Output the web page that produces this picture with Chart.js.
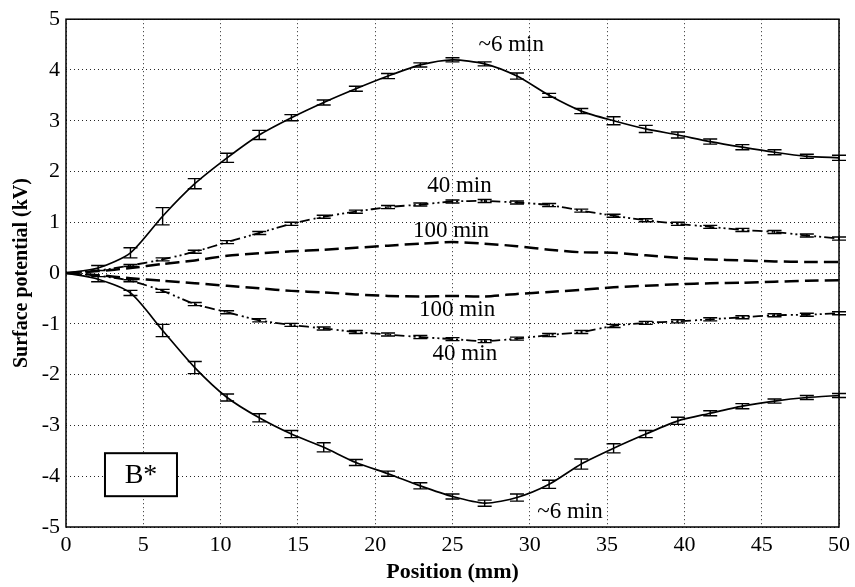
<!DOCTYPE html>
<html>
<head>
<meta charset="utf-8">
<script src="https://cdn.jsdelivr.net/npm/chart.js@4.4.1/dist/chart.umd.min.js"></script>
<style>
  html, body { margin: 0; padding: 0; background: #ffffff; }
  #wrap { width: 855px; height: 587px; }
</style>
</head>
<body>
<div id="wrap"><canvas id="grafico" width="855" height="587"></canvas></div>
<script>
// posicoes (mm)
var posicoes = [0, 2.08, 4.17, 6.25, 8.33, 10.42, 12.5, 14.58, 16.67, 18.75, 20.83, 22.92, 25,
    27.08, 29.17, 31.25, 33.33, 35.42, 37.5, 39.58, 41.67, 43.75, 45.83, 47.92, 50];

// potencial (kV)
var pos6min = [0, 0.1, 0.4, 1.12, 1.76, 2.27, 2.72, 3.06, 3.36, 3.63, 3.88, 4.1, 4.2,
    4.12, 3.88, 3.5, 3.19, 3.0, 2.84, 2.72, 2.59, 2.48, 2.38, 2.3, 2.27];
var pos40min = [0, 0.05, 0.15, 0.27, 0.42, 0.61, 0.79, 0.97, 1.11, 1.21, 1.3, 1.35, 1.41,
    1.42, 1.39, 1.34, 1.23, 1.13, 1.04, 0.97, 0.91, 0.85, 0.81, 0.74, 0.68];
var pos100min = [0, 0.04, 0.1, 0.18, 0.25, 0.34, 0.39, 0.43, 0.46, 0.5, 0.54, 0.58, 0.61,
    0.58, 0.53, 0.46, 0.41, 0.4, 0.35, 0.3, 0.27, 0.25, 0.23, 0.22, 0.22];
var neg100min = [0, -0.04, -0.1, -0.15, -0.2, -0.25, -0.3, -0.35, -0.38, -0.42, -0.45, -0.46, -0.45,
    -0.46, -0.41, -0.37, -0.33, -0.28, -0.25, -0.22, -0.2, -0.19, -0.17, -0.15, -0.14];
var neg40min = [0, -0.05, -0.15, -0.35, -0.61, -0.77, -0.93, -1.02, -1.09, -1.16, -1.21, -1.26, -1.3,
    -1.34, -1.29, -1.22, -1.16, -1.04, -0.98, -0.95, -0.91, -0.87, -0.83, -0.82, -0.79];
var neg6min = [0, -0.12, -0.39, -1.13, -1.86, -2.45, -2.85, -3.17, -3.43, -3.73, -3.95, -4.19, -4.4,
    -4.53, -4.42, -4.16, -3.76, -3.45, -3.17, -2.91, -2.76, -2.62, -2.52, -2.45, -2.41];

// barras de erro (kV)
var erro6minPos = [0, 0.05, 0.1, 0.17, 0.1, 0.09, 0.09, 0.06, 0.05, 0.05, 0.05, 0.04, 0.04,
    0.04, 0.06, 0.04, 0.05, 0.08, 0.07, 0.06, 0.05, 0.05, 0.05, 0.04, 0.05];
var erro6minNeg = [0, 0.05, 0.05, 0.12, 0.12, 0.07, 0.08, 0.07, 0.09, 0.06, 0.05, 0.06, 0.05,
    0.06, 0.07, 0.08, 0.1, 0.09, 0.07, 0.07, 0.05, 0.05, 0.04, 0.04, 0.04];
var erro40min = [0, 0, 0.02, 0.03, 0.03, 0.03, 0.03, 0.03, 0.03, 0.03, 0.03, 0.03, 0.03,
    0.03, 0.03, 0.03, 0.03, 0.03, 0.03, 0.03, 0.03, 0.03, 0.03, 0.03, 0.03];

var ticksX = [0, 5, 10, 15, 20, 25, 30, 35, 40, 45, 50];
var ticksY = [-5, -4, -3, -2, -1, 0, 1, 2, 3, 4, 5];

var rotulos = [
    { texto: "~6 min", x: 28.8, y: 4.49 },
    { texto: "40 min", x: 25.45, y: 1.71 },
    { texto: "100 min", x: 24.9, y: 0.83 },
    { texto: "100 min", x: 25.3, y: -0.73 },
    { texto: "40 min", x: 25.8, y: -1.59 },
    { texto: "~6 min", x: 32.6, y: -4.71 }
];

var fonte = "'Liberation Serif', 'Times New Roman', serif";

function montarSerie(valores) {
    var pontos = [];
    for (var i = 0; i < posicoes.length; i++) {
        pontos.push({ x: posicoes[i], y: valores[i] });
    }
    return pontos;
}

function serie(nome, valores, erros, tracejado, largura) {
    return {
        label: nome,
        data: montarSerie(valores),
        erros: erros,
        borderColor: "#000000",
        borderWidth: largura,
        borderDash: tracejado,
        pointRadius: 0,
        tension: 0.25,
        fill: false
    };
}

// barras de erro, desenhadas pelas escalas do grafico
var pluginErros = {
    id: "barrasErro",
    afterDatasetsDraw: function (chart) {
        var ctx = chart.ctx;
        var sx = chart.scales.x, sy = chart.scales.y;
        ctx.save();
        ctx.strokeStyle = "#000000";
        ctx.lineWidth = 1.4;
        ctx.setLineDash([]);
        chart.data.datasets.forEach(function (ds) {
            if (!ds.erros) return;
            ds.data.forEach(function (p, i) {
                var e = ds.erros[i];
                if (!e) return;
                var px = sx.getPixelForValue(p.x);
                var y1 = sy.getPixelForValue(p.y + e);
                var y2 = sy.getPixelForValue(p.y - e);
                ctx.beginPath();
                ctx.moveTo(px, y1); ctx.lineTo(px, y2);
                ctx.moveTo(px - 7, y1); ctx.lineTo(px + 7, y1);
                ctx.moveTo(px - 7, y2); ctx.lineTo(px + 7, y2);
                ctx.stroke();
            });
        });
        ctx.restore();
    }
};

var pluginTextos = {
    id: "textos",
    afterDraw: function (chart) {
        var ctx = chart.ctx;
        var a = chart.chartArea;
        var sx = chart.scales.x, sy = chart.scales.y;
        ctx.save();
        // moldura
        ctx.setLineDash([]);
        ctx.strokeStyle = "#000000";
        ctx.lineWidth = 1.5;
        ctx.strokeRect(a.left, a.top, a.right - a.left, a.bottom - a.top);

        ctx.fillStyle = "#000000";
        ctx.font = "23px " + fonte;
        ctx.textAlign = "center";
        ctx.textBaseline = "middle";
        rotulos.forEach(function (r) {
            ctx.fillText(r.texto, sx.getPixelForValue(r.x), sy.getPixelForValue(r.y));
        });

        // caixa B*
        var cx = sx.getPixelForValue(4.85), cy = sy.getPixelForValue(-3.96);
        ctx.fillStyle = "#ffffff";
        ctx.fillRect(cx - 36, cy - 21, 72, 43);
        ctx.lineWidth = 2;
        ctx.strokeRect(cx - 36, cy - 21, 72, 43);
        ctx.fillStyle = "#000000";
        ctx.font = "28px " + fonte;
        ctx.fillText("B*", cx, cy + 1);
        ctx.restore();
    }
};

Chart.defaults.color = "#000000";
Chart.defaults.font.family = fonte;

var grafico = new Chart(document.getElementById("grafico"), {
    type: "line",
    data: {
        datasets: [
            serie("~6 min", pos6min, erro6minPos, [], 1.7),
            serie("40 min", pos40min, erro40min, [10, 4, 2, 3, 2, 3], 1.8),
            serie("100 min", pos100min, null, [14, 6], 2.5),
            serie("100 min", neg100min, null, [14, 6], 2.5),
            serie("40 min", neg40min, erro40min, [10, 4, 2, 3, 2, 3], 1.8),
            serie("~6 min", neg6min, erro6minNeg, [], 1.7)
        ]
    },
    options: {
        responsive: false,
        animation: false,
        layout: { padding: { left: 0, top: 14, right: 16, bottom: 0 } },
        plugins: {
            legend: { display: false },
            tooltip: { enabled: false }
        },
        scales: {
            x: {
                type: "linear",
                min: 0,
                max: 50,
                afterBuildTicks: function (scale) {
                    scale.ticks = ticksX.map(function (v) { return { value: v }; });
                },
                afterFit: function (scale) { scale.height = 60; },
                ticks: { font: { size: 22 }, padding: 5, maxRotation: 0 },
                grid: { color: "rgba(0,0,0,0.85)", lineWidth: 1, drawTicks: false },
                border: { display: false, dash: [1, 3] },
                title: {
                    display: true,
                    text: "Position (mm)",
                    font: { size: 22, weight: "bold" },
                    padding: { top: 0, bottom: 1 }
                }
            },
            y: {
                type: "linear",
                min: -5,
                max: 5,
                afterBuildTicks: function (scale) {
                    scale.ticks = ticksY.map(function (v) { return { value: v }; });
                },
                afterFit: function (scale) { scale.width = 66; },
                ticks: { font: { size: 22 }, padding: 6 },
                grid: { color: "rgba(0,0,0,0.85)", lineWidth: 1, drawTicks: false },
                border: { display: false, dash: [1, 3] },
                title: {
                    display: true,
                    text: "Surface potential (kV)",
                    font: { size: 20, weight: "bold" },
                    padding: { top: 10, bottom: 0 }
                }
            }
        }
    },
    plugins: [pluginErros, pluginTextos]
});
</script>
</body>
</html>
